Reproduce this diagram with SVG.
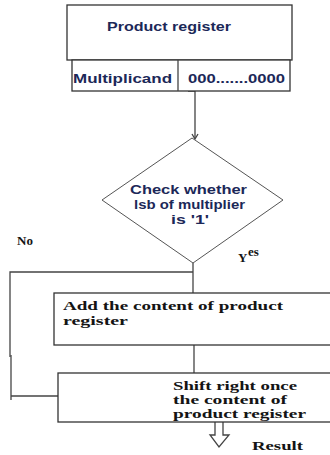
<svg xmlns="http://www.w3.org/2000/svg" width="330" height="455" viewBox="0 0 330 455">
<style>
.box{fill:#fff;stroke:#333;stroke-width:1.3}
.ln{fill:none;stroke:#444;stroke-width:1.3}
.sans{font-family:"Liberation Sans",Arial,sans-serif;font-weight:bold;font-size:12px;fill:#1c2858}
.serif{font-family:"Liberation Serif","Times New Roman",serif;font-weight:bold;font-size:13px;fill:#141414}
</style>
<rect width="330" height="455" fill="#fff"/>
<g id="connectors">
<path class="ln" d="M188,91 L195,91 L195,138"/>
<path class="ln" d="M192,134 L195,139 L198,134"/>
<path class="ln" d="M193,263 L193,293"/>
<path class="ln" d="M193,272 L10,272 L10,357"/>
<path class="ln" d="M11,355 L11,400"/>
<path class="ln" d="M11,396 L59,396"/>
<path class="ln" d="M194,345 L194,373"/>
<path class="ln" d="M215,422 L215,435 L210,435 L219,447 L229,435 L223,435 L223,422" fill="#fff"/>
</g>
<g id="register">
<rect class="box" x="67" y="5" width="225" height="55"/>
<rect class="box" x="72" y="60" width="218" height="31"/>
<line class="ln" x1="178" y1="60" x2="178" y2="91"/>
<text class="sans" x="107" y="31" textLength="124" lengthAdjust="spacingAndGlyphs">Product register</text>
<text class="sans" x="73" y="83" textLength="99" lengthAdjust="spacingAndGlyphs">Multiplicand</text>
<text class="sans" x="188" y="83" textLength="97" lengthAdjust="spacingAndGlyphs">000.......0000</text>
</g>
<g id="decision">
<polygon points="192,138 283,200 193,263 102,200" fill="#fff" stroke="#555" stroke-width="1"/>
<text class="sans" x="130" y="194" textLength="117" lengthAdjust="spacingAndGlyphs">Check whether</text>
<text class="sans" x="134" y="209" textLength="111" lengthAdjust="spacingAndGlyphs">lsb of multiplier</text>
<text class="sans" x="171" y="224" textLength="38" lengthAdjust="spacingAndGlyphs">is '1'</text>
</g>
<g id="labels">
<text class="serif" x="17" y="245">No</text>
<text class="serif" x="238" y="262" font-size="14">Y</text>
<text class="serif" x="248" y="256" font-size="10">es</text>
<text class="serif" x="252" y="450" font-size="14" textLength="51" lengthAdjust="spacingAndGlyphs">Result</text>
</g>
<g id="add">
<rect class="box" x="54" y="293" width="290" height="52"/>
<text class="serif" x="63" y="310" font-size="14" textLength="220" lengthAdjust="spacingAndGlyphs">Add the content of product</text>
<text class="serif" x="63" y="325" font-size="14" textLength="65" lengthAdjust="spacingAndGlyphs">register</text>
</g>
<g id="shift">
<rect class="box" x="58" y="373" width="290" height="49"/>
<text class="serif" x="173" y="390" textLength="124" lengthAdjust="spacingAndGlyphs">Shift right once</text>
<text class="serif" x="173" y="404" textLength="114" lengthAdjust="spacingAndGlyphs">the content of</text>
<text class="serif" x="173" y="418" textLength="133" lengthAdjust="spacingAndGlyphs">product register</text>
</g>
</svg>
